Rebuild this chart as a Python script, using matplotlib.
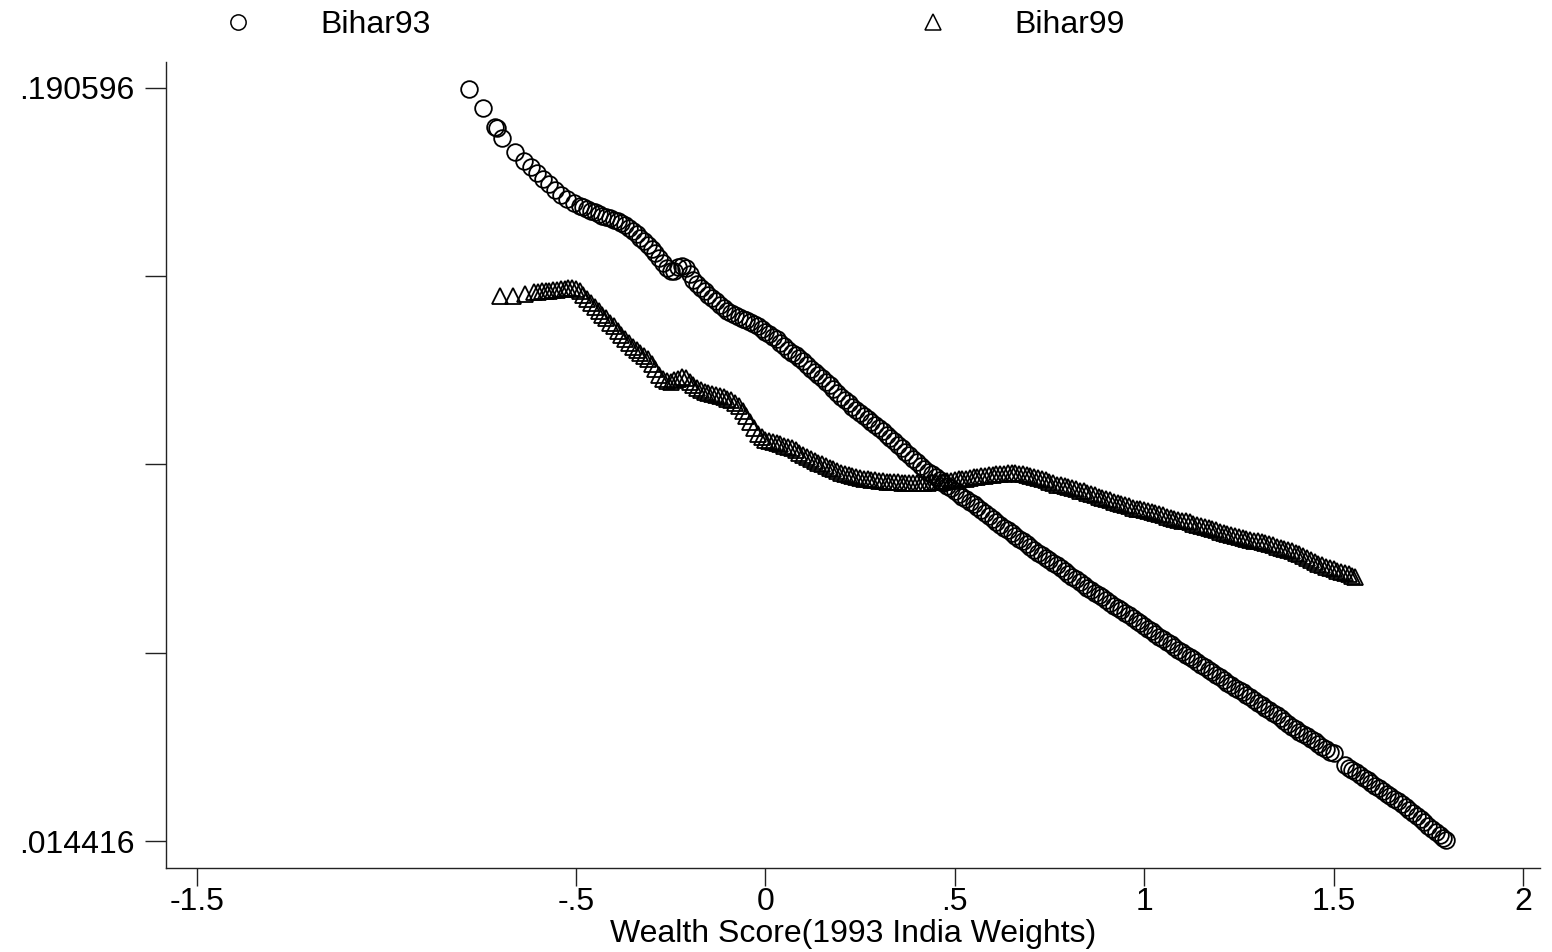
import matplotlib.pyplot as plt
from matplotlib.lines import Line2D

plt.rcParams['font.family'] = ['Liberation Sans', 'DejaVu Sans']

# Bihar93 (circles): sparse head, then the dense band read every .01
x93 = [-0.782, -0.745, -0.713, -0.708, -0.695, -0.661, -0.637, -0.618, -0.603, -0.587,
       -0.571, -0.555, -0.539, -0.524, -0.505,
       -0.49, -0.48, -0.47, -0.46, -0.45, -0.44, -0.43, -0.42, -0.41, -0.40,
       -0.39, -0.38, -0.37, -0.36, -0.35, -0.34, -0.33, -0.32, -0.31, -0.30,
       -0.29, -0.28, -0.27, -0.26, -0.25, -0.24, -0.23, -0.22, -0.21, -0.20,
       -0.19, -0.18, -0.17, -0.16, -0.15, -0.14, -0.13, -0.12, -0.11, -0.10,
       -0.09, -0.08, -0.07, -0.06, -0.05, -0.04, -0.03, -0.02, -0.01, 0.00,
       0.01, 0.02, 0.03, 0.04, 0.05, 0.06, 0.07, 0.08, 0.09, 0.10,
       0.11, 0.12, 0.13, 0.14, 0.15, 0.16, 0.17, 0.18, 0.19, 0.20,
       0.21, 0.22, 0.23, 0.24, 0.25, 0.26, 0.27, 0.28, 0.29, 0.30,
       0.31, 0.32, 0.33, 0.34, 0.35, 0.36, 0.37, 0.38, 0.39, 0.40,
       0.41, 0.42, 0.43, 0.44, 0.45, 0.46, 0.47, 0.48, 0.49, 0.50,
       0.51, 0.52, 0.53, 0.54, 0.55, 0.56, 0.57, 0.58, 0.59, 0.60,
       0.61, 0.62, 0.63, 0.64, 0.65, 0.66, 0.67, 0.68, 0.69, 0.70,
       0.71, 0.72, 0.73, 0.74, 0.75, 0.76, 0.77, 0.78, 0.79, 0.80,
       0.81, 0.82, 0.83, 0.84, 0.85, 0.86, 0.87, 0.88, 0.89, 0.90,
       0.91, 0.92, 0.93, 0.94, 0.95, 0.96, 0.97, 0.98, 0.99, 1.00,
       1.01, 1.02, 1.03, 1.04, 1.05, 1.06, 1.07, 1.08, 1.09, 1.10,
       1.11, 1.12, 1.13, 1.14, 1.15, 1.16, 1.17, 1.18, 1.19, 1.20,
       1.21, 1.22, 1.23, 1.24, 1.25, 1.26, 1.27, 1.28, 1.29, 1.30,
       1.31, 1.32, 1.33, 1.34, 1.35, 1.36, 1.37, 1.38, 1.39, 1.40,
       1.41, 1.42, 1.43, 1.44, 1.45, 1.46, 1.47, 1.48, 1.49, 1.50,
       1.53, 1.54, 1.55, 1.56, 1.57, 1.58, 1.59, 1.60, 1.61, 1.62,
       1.63, 1.64, 1.65, 1.66, 1.67, 1.68, 1.69, 1.70, 1.71, 1.72,
       1.73, 1.74, 1.75, 1.76, 1.77, 1.78, 1.79, 1.797]
y93 = [0.19036, 0.18592, 0.18147, 0.18124, 0.17890, 0.17562, 0.17352, 0.17211, 0.17071, 0.16931,
       0.16814, 0.16673, 0.16556, 0.16462, 0.16369,
       0.1630, 0.1627, 0.1623, 0.1619, 0.1615, 0.1610, 0.1607, 0.1604, 0.1601, 0.1598,
       0.1594, 0.1590, 0.1585, 0.1579, 0.1572, 0.1564, 0.1556, 0.1547, 0.1538, 0.1529,
       0.1520, 0.1509, 0.1497, 0.1484, 0.1478, 0.1478, 0.1487, 0.1490, 0.1484, 0.1470,
       0.1457, 0.1447, 0.1437, 0.1430, 0.1422, 0.1415, 0.1407, 0.1399, 0.1391, 0.1385,
       0.1379, 0.1375, 0.1371, 0.1366, 0.1362, 0.1358, 0.1353, 0.1349, 0.1343, 0.1336,
       0.1330, 0.1324, 0.1318, 0.1310, 0.1302, 0.1294, 0.1287, 0.1281, 0.1274, 0.1267,
       0.1258, 0.1249, 0.1242, 0.1235, 0.1227, 0.1219, 0.1210, 0.1201, 0.1192, 0.1184,
       0.1176, 0.1168, 0.1160, 0.1152, 0.1145, 0.1138, 0.1132, 0.1125, 0.1118, 0.1111,
       0.1103, 0.1095, 0.1087, 0.1079, 0.1071, 0.1063, 0.1055, 0.1047, 0.1039, 0.1030,
       0.1022, 0.1015, 0.1008, 0.1002, 0.0995, 0.0988, 0.0981, 0.0975, 0.0969, 0.0963,
       0.0957, 0.0950, 0.0944, 0.0938, 0.0932, 0.0925, 0.0918, 0.0911, 0.0904, 0.0898,
       0.0891, 0.0884, 0.0877, 0.0871, 0.0865, 0.0858, 0.0851, 0.0845, 0.0838, 0.0832,
       0.0825, 0.0819, 0.0813, 0.0807, 0.0801, 0.0795, 0.0789, 0.0782, 0.0776, 0.0769,
       0.0762, 0.0756, 0.0749, 0.0743, 0.0737, 0.0731, 0.0725, 0.0719, 0.0714, 0.0708,
       0.0702, 0.0695, 0.0689, 0.0684, 0.0678, 0.0672, 0.0666, 0.0660, 0.0654, 0.0648,
       0.0641, 0.0635, 0.0628, 0.0622, 0.0616, 0.0610, 0.0604, 0.0598, 0.0592, 0.0586,
       0.0580, 0.0575, 0.0569, 0.0563, 0.0557, 0.0551, 0.0545, 0.0539, 0.0533, 0.0527,
       0.0521, 0.0515, 0.0509, 0.0503, 0.0497, 0.0492, 0.0486, 0.0480, 0.0474, 0.0468,
       0.0462, 0.0456, 0.0450, 0.0443, 0.0438, 0.0432, 0.0425, 0.0418, 0.0412, 0.0406,
       0.0400, 0.0395, 0.0389, 0.0383, 0.0377, 0.0371, 0.0365, 0.0359, 0.0353, 0.0349,
       0.0322, 0.0316, 0.0310, 0.0305, 0.0299, 0.0292, 0.0286, 0.0280, 0.0274, 0.0268,
       0.0262, 0.0255, 0.0249, 0.0243, 0.0237, 0.0230, 0.0224, 0.0217, 0.0210, 0.0203,
       0.0196, 0.0188, 0.0180, 0.0173, 0.0166, 0.0159, 0.0152, 0.0147]

# Bihar99 (triangles)
x99 = [-0.700, -0.666, -0.634,
       -0.61, -0.60, -0.59, -0.58, -0.57, -0.56, -0.55, -0.54, -0.53, -0.52,
       -0.51, -0.50, -0.49, -0.48, -0.47, -0.46, -0.45, -0.44, -0.43, -0.42,
       -0.41, -0.40, -0.39, -0.38, -0.37, -0.36, -0.35, -0.34, -0.33, -0.32,
       -0.31, -0.30, -0.29, -0.28, -0.27, -0.26, -0.25, -0.24, -0.23, -0.22,
       -0.21, -0.20, -0.19, -0.18, -0.17, -0.16, -0.15, -0.14, -0.13, -0.12,
       -0.11, -0.10, -0.09, -0.08, -0.07, -0.06, -0.05, -0.04, -0.03, -0.02,
       -0.01, 0.00, 0.01, 0.02, 0.03, 0.04, 0.05, 0.06, 0.07, 0.08,
       0.09, 0.10, 0.11, 0.12, 0.13, 0.14, 0.15, 0.16, 0.17, 0.18,
       0.19, 0.20, 0.21, 0.22, 0.23, 0.24, 0.25, 0.26, 0.27, 0.28,
       0.29, 0.30, 0.31, 0.32, 0.33, 0.34, 0.35, 0.36, 0.37, 0.38,
       0.39, 0.40, 0.41, 0.42, 0.43, 0.44, 0.45, 0.46, 0.47, 0.48,
       0.49, 0.50, 0.51, 0.52, 0.53, 0.54, 0.55, 0.56, 0.57, 0.58,
       0.59, 0.60, 0.61, 0.62, 0.63, 0.64, 0.65, 0.66, 0.67, 0.68,
       0.69, 0.70, 0.71, 0.72, 0.73, 0.74, 0.75, 0.76, 0.77, 0.78,
       0.79, 0.80, 0.81, 0.82, 0.83, 0.84, 0.85, 0.86, 0.87, 0.88,
       0.89, 0.90, 0.91, 0.92, 0.93, 0.94, 0.95, 0.96, 0.97, 0.98,
       0.99, 1.00, 1.01, 1.02, 1.03, 1.04, 1.05, 1.06, 1.07, 1.08,
       1.09, 1.10, 1.11, 1.12, 1.13, 1.14, 1.15, 1.16, 1.17, 1.18,
       1.19, 1.20, 1.21, 1.22, 1.23, 1.24, 1.25, 1.26, 1.27, 1.28,
       1.29, 1.30, 1.31, 1.32, 1.33, 1.34, 1.35, 1.36, 1.37, 1.38,
       1.39, 1.40, 1.41, 1.42, 1.43, 1.44, 1.45, 1.46, 1.47, 1.48,
       1.49, 1.50, 1.51, 1.52, 1.53, 1.54, 1.55, 1.557]
y99 = [0.14193, 0.14193, 0.14240,
       0.1428, 0.1429, 0.1430, 0.1431, 0.1432, 0.1433, 0.1434, 0.1435, 0.1436, 0.1437,
       0.1438, 0.1436, 0.1431, 0.1422, 0.1412, 0.1403, 0.1393, 0.1384, 0.1376, 0.1367,
       0.1357, 0.1348, 0.1338, 0.1328, 0.1318, 0.1309, 0.1301, 0.1293, 0.1286, 0.1279,
       0.1271, 0.1260, 0.1248, 0.1235, 0.1225, 0.1221, 0.1219, 0.1222, 0.1226, 0.1229,
       0.1228, 0.1219, 0.1210, 0.1204, 0.1199, 0.1195, 0.1193, 0.1190, 0.1188, 0.1185,
       0.1182, 0.1179, 0.1175, 0.1170, 0.1161, 0.1150, 0.1138, 0.1124, 0.1110, 0.1096,
       0.1089, 0.1083, 0.1079, 0.1077, 0.1075, 0.1072, 0.1069, 0.1066, 0.1063, 0.1058,
       0.1053, 0.1048, 0.1043, 0.1038, 0.1033, 0.1029, 0.1026, 0.1022, 0.1018, 0.1014,
       0.1010, 0.1006, 0.1003, 0.1000, 0.0997, 0.0995, 0.0994, 0.0992, 0.0990, 0.0989,
       0.0988, 0.0987, 0.0986, 0.0985, 0.0984, 0.0983, 0.0983, 0.0982, 0.0982, 0.0982,
       0.0982, 0.0982, 0.0982, 0.0982, 0.0982, 0.0983, 0.0983, 0.0984, 0.0985, 0.0986,
       0.0987, 0.0988, 0.0990, 0.0991, 0.0992, 0.0994, 0.0995, 0.0996, 0.0998, 0.0999,
       0.1000, 0.1001, 0.1002, 0.1003, 0.1004, 0.1005, 0.1005, 0.1005, 0.1004, 0.1003,
       0.1001, 0.0999, 0.0996, 0.0994, 0.0991, 0.0988, 0.0985, 0.0982, 0.0978, 0.0976,
       0.0974, 0.0972, 0.0970, 0.0967, 0.0964, 0.0962, 0.0959, 0.0956, 0.0953, 0.0950,
       0.0947, 0.0944, 0.0941, 0.0938, 0.0935, 0.0932, 0.0930, 0.0927, 0.0924, 0.0922,
       0.0920, 0.0918, 0.0916, 0.0914, 0.0911, 0.0909, 0.0906, 0.0903, 0.0900, 0.0898,
       0.0896, 0.0894, 0.0892, 0.0890, 0.0887, 0.0884, 0.0882, 0.0879, 0.0876, 0.0873,
       0.0871, 0.0868, 0.0865, 0.0862, 0.0860, 0.0857, 0.0855, 0.0853, 0.0851, 0.0849,
       0.0847, 0.0845, 0.0843, 0.0841, 0.0838, 0.0836, 0.0833, 0.0830, 0.0828, 0.0825,
       0.0822, 0.0818, 0.0815, 0.0812, 0.0807, 0.0802, 0.0797, 0.0792, 0.0789, 0.0786,
       0.0783, 0.0780, 0.0777, 0.0774, 0.0771, 0.0768, 0.0765, 0.0762]

xticks = [-1.5, -0.5, 0, 0.5, 1, 1.5, 2]
xticklabels = ['-1.5', '-.5', '0', '.5', '1', '1.5', '2']
ymin_val, ymax_val = 0.014416, 0.190596
yticklabels = ['.014416', '', '', '', '.190596']

fig = plt.figure(figsize=(15.52, 9.52), dpi=100)
ax = fig.add_axes([166 / 1552, 84 / 952, (1540 - 166) / 1552, (868 - 62) / 952])

mk = dict(linestyle='none', mfc='none', mec='black', mew=1.3, ms=12)
ax.plot(x93, y93, marker='o', **mk)
ax.plot(x99, y99, marker='^', **mk)

ax.set_xlim(-1.582, 2.045)
ax.set_ylim(0.008099, 0.196679)

step = (ymax_val - ymin_val) / 4
ax.set_yticks([ymin_val + i * step for i in range(5)])
ax.set_yticklabels(yticklabels)
ax.set_xticks(xticks)
ax.set_xticklabels(xticklabels)

for s in ['top', 'right']:
    ax.spines[s].set_visible(False)
for s in ['left', 'bottom']:
    ax.spines[s].set_linewidth(1.0)
    ax.spines[s].set_color('#222222')

ax.tick_params(axis='y', length=15, width=1, pad=7.5, labelsize=23, color='#222222')
ax.tick_params(axis='x', length=13, width=1, pad=1, labelsize=23, color='#222222')
ax.set_xlabel('Wealth Score(1993 India Weights)', fontsize=23, labelpad=1)

mk_leg = dict(mk, ms=11, mew=1.1)
handles = [Line2D([], [], marker='o', **mk_leg), Line2D([], [], marker='^', **mk_leg)]
fig.legend(handles, ['Bihar93', 'Bihar99'], ncol=2, frameon=False, fontsize=23,
           loc='upper left', bbox_to_anchor=(224 / 1552, 1 - 10 / 952),
           handlelength=0.88, handletextpad=2.13, columnspacing=15.28,
           borderpad=0, borderaxespad=0)

fig.savefig('out.png', dpi=100)
